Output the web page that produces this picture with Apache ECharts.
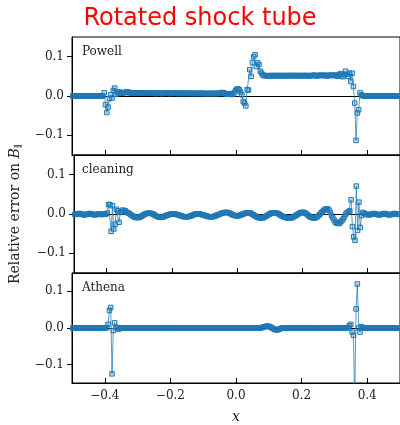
<!DOCTYPE html>
<html>
<head>
<meta charset="utf-8">
<script src="https://cdn.jsdelivr.net/npm/echarts@6/dist/echarts.min.js"></script>
<style>
html,body{margin:0;padding:0;background:#fff;}
#chart{width:400px;height:425px;}
</style>
</head>
<body>
<div id="chart"></div>
<script>
// Sample positions (cell centres) shared by the three runs
const xGrid = [
-0.498,-0.494,-0.490,-0.486,-0.482,-0.478,-0.474,-0.470,-0.466,-0.462,
-0.458,-0.454,-0.450,-0.446,-0.442,-0.438,-0.434,-0.430,-0.426,-0.422,
-0.418,-0.414,-0.410,-0.406,-0.402,-0.398,-0.394,-0.390,-0.386,-0.382,
-0.378,-0.374,-0.370,-0.366,-0.362,-0.358,-0.354,-0.350,-0.346,-0.342,
-0.338,-0.334,-0.330,-0.326,-0.322,-0.318,-0.314,-0.310,-0.306,-0.302,
-0.298,-0.294,-0.290,-0.286,-0.282,-0.278,-0.274,-0.270,-0.266,-0.262,
-0.258,-0.254,-0.250,-0.246,-0.242,-0.238,-0.234,-0.230,-0.226,-0.222,
-0.218,-0.214,-0.210,-0.206,-0.202,-0.198,-0.194,-0.190,-0.186,-0.182,
-0.178,-0.174,-0.170,-0.166,-0.162,-0.158,-0.154,-0.150,-0.146,-0.142,
-0.138,-0.134,-0.130,-0.126,-0.122,-0.118,-0.114,-0.110,-0.106,-0.102,
-0.098,-0.094,-0.090,-0.086,-0.082,-0.078,-0.074,-0.070,-0.066,-0.062,
-0.058,-0.054,-0.050,-0.046,-0.042,-0.038,-0.034,-0.030,-0.026,-0.022,
-0.018,-0.014,-0.010,-0.006,-0.002,0.002,0.006,0.010,0.014,0.018,
0.022,0.026,0.030,0.034,0.038,0.042,0.046,0.050,0.054,0.058,
0.062,0.066,0.070,0.074,0.078,0.082,0.086,0.090,0.094,0.098,
0.102,0.106,0.110,0.114,0.118,0.122,0.126,0.130,0.134,0.138,
0.142,0.146,0.150,0.154,0.158,0.162,0.166,0.170,0.174,0.178,
0.182,0.186,0.190,0.194,0.198,0.202,0.206,0.210,0.214,0.218,
0.222,0.226,0.230,0.234,0.238,0.242,0.246,0.250,0.254,0.258,
0.262,0.266,0.270,0.274,0.278,0.282,0.286,0.290,0.294,0.298,
0.302,0.306,0.310,0.314,0.318,0.322,0.326,0.330,0.334,0.338,
0.342,0.346,0.350,0.354,0.358,0.362,0.366,0.370,0.374,0.378,
0.382,0.386,0.390,0.394,0.398,0.402,0.406,0.410,0.414,0.418,
0.422,0.426,0.430,0.434,0.438,0.442,0.446,0.450,0.454,0.458,
0.462,0.466,0.470,0.474,0.478,0.482,0.486,0.490,0.494,0.498
];

const powellErr = [
0,0,0,0,0,0,0,0,0,0,
0,0,0,0,0,0,0,0,0,0,
0,0,0,0,0.008,-0.022,-0.042,-0.028,-0.007,0.003,
-0.005,0.014,0.020,0.005,0.010,0.006,0.010,0.007,0.008,0.008,
0.009,0.011,0.010,0.008,0.009,0.007,0.008,0.008,0.007,0.008,
0.007,0.008,0.007,0.007,0.008,0.007,0.007,0.008,0.007,0.007,
0.008,0.007,0.007,0.006,0.007,0.008,0.007,0.007,0.006,0.007,
0.007,0.007,0.008,0.007,0.006,0.007,0.007,0.007,0.008,0.007,
0.006,0.007,0.007,0.007,0.006,0.007,0.007,0.007,0.006,0.007,
0.007,0.006,0.007,0.007,0.006,0.007,0.006,0.007,0.007,0.006,
0.007,0.006,0.006,0.007,0.006,0.007,0.006,0.006,0.007,0.006,
0.007,0.006,0.007,0.008,0.009,0.008,0.006,0.005,0.006,0.005,
0.005,0.004,0.004,0.008,0.013,0.017,0.018,0.016,0.010,0.003,
-0.014,-0.018,-0.025,0.016,0.015,0.067,0.050,0.085,0.100,0.105,
0.075,0.084,0.080,0.063,0.058,0.053,0.052,0.051,0.052,0.051,
0.051,0.052,0.052,0.051,0.052,0.052,0.051,0.052,0.052,0.051,
0.052,0.051,0.052,0.052,0.051,0.052,0.052,0.052,0.051,0.052,
0.052,0.052,0.051,0.052,0.052,0.051,0.052,0.052,0.052,0.051,
0.052,0.051,0.052,0.052,0.053,0.052,0.051,0.052,0.052,0.053,
0.052,0.052,0.053,0.052,0.051,0.052,0.053,0.052,0.053,0.052,
0.053,0.052,0.050,0.054,0.057,0.051,0.049,0.055,0.063,0.055,
0.050,0.058,0.037,0.058,0.024,-0.018,-0.113,-0.043,-0.035,0.008,
0.003,0.001,0,0,0,0,0,0,0,0,
0,0,0,0,0,0,0,0,0,0,
0,0,0,0,0,0,0,0,0,0
];

const cleaningErr = [
-0.001,-0.001,0,0.001,0.001,0,-0.001,-0.002,-0.002,-0.001,
0,0.001,0.001,0,-0.001,-0.002,-0.002,-0.001,0,0,
-0.001,-0.001,0,-0.001,0,0.002,0.024,0.024,-0.044,0.021,
-0.038,-0.026,0.012,0.008,-0.021,0.004,0.006,0.010,0.007,0.008,
0.004,0.003,0.001,-0.002,-0.004,-0.006,-0.008,-0.009,-0.009,-0.009,
-0.008,-0.006,-0.004,-0.002,0,0.001,0.002,0.002,0.002,0.001,
0,-0.002,-0.004,-0.006,-0.007,-0.008,-0.008,-0.008,-0.007,-0.006,
-0.004,-0.003,-0.002,-0.001,0,0,0,0,-0.001,-0.002,
-0.003,-0.004,-0.005,-0.006,-0.007,-0.007,-0.007,-0.007,-0.006,-0.005,
-0.004,-0.002,-0.001,0,0,0,0,-0.001,-0.002,-0.003,
-0.004,-0.005,-0.006,-0.007,-0.007,-0.007,-0.007,-0.006,-0.005,-0.003,
-0.002,-0.001,0.001,0.002,0.003,0.004,0.004,0.004,0.003,0.002,
0,-0.002,-0.003,-0.004,-0.005,-0.005,-0.004,-0.003,-0.002,0,
0.001,0.002,0.003,0.003,0.003,0.002,0,-0.002,-0.004,-0.006,
-0.008,-0.009,-0.010,-0.010,-0.010,-0.009,-0.007,-0.005,-0.003,-0.001,
0.001,0.002,0.003,0.003,0.003,0.002,0.001,-0.001,-0.003,-0.005,
-0.007,-0.008,-0.009,-0.010,-0.010,-0.010,-0.010,-0.009,-0.007,-0.005,
-0.003,-0.001,0.001,0.003,0.004,0.004,0.004,0.002,0,-0.003,
-0.006,-0.008,-0.009,-0.010,-0.010,-0.009,-0.007,-0.004,-0.001,0.003,
0.006,0.009,0.012,0.013,0.013,0.010,0.004,-0.004,-0.010,-0.016,
-0.021,-0.023,-0.024,-0.024,-0.020,-0.017,-0.012,-0.006,0,0.004,
0.006,0.008,0.036,-0.032,-0.058,-0.067,0.071,-0.042,0.030,-0.034,
-0.004,0.004,0.002,0,-0.001,-0.002,-0.002,-0.001,0,0.001,
0.001,0,-0.001,-0.002,-0.002,-0.001,0,0.001,0.001,0,
-0.001,-0.002,-0.002,-0.001,0,0.001,0.001,0,-0.001,-0.001
];

const athenaErr = [
0,0,0,0,0,0,0,0,0,0,
0,0,0,0,0,0,0,0,0,0,
0,0,0,0,0,0,0.001,0.010,0.048,0.056,
-0.125,-0.007,0.014,0.002,0.001,-0.003,0,0,0,0,
0,0,0,0,0,0,0,0,0,0,
0,0,0,0,0,0,0,0,0,0,
0,0,0,0,0,0,0,0,0,0,
0,0,0,0,0,0,0,0,0,0,
0,0,0,0,0,0,0,0,0,0,
0,0,0,0,0,0,0,0,0,0,
0,0,0,0,0,0,0,0,0,0,
0,0,0,0,0,0,0,0,0,0,
0,0,0,0,0,0,0,0,0,0,
0,0,0,0,0,0,0,0,0,0,
0,0,0,0,0.001,0.002,0.003,0.004,0.005,0.005,
0.004,0.002,0,-0.002,-0.004,-0.005,-0.005,-0.004,-0.002,-0.001,
0,0,0,0,0,0,0,0,0,0,
0,0,0,0,0,0,0,0,0,0,
0,0,0,0,0,0,0,0,0,0,
0,0,0,0,0,0,0,0,0,0,
0,0,0,0,0,0,0,0,0,0.001,
0.001,0.006,0.010,-0.011,-0.020,-0.200,0.052,0.120,0,-0.011,
0.004,0.001,0,0,0,0,0,0,0,0,
0,0,0,0,0,0,0,0,0,0,
0,0,0,0,0,0,0,0,0,0
];

const panelNames = ['Powell', 'cleaning', 'Athena'];
const panelSeries = [powellErr, cleaningErr, athenaErr];
const xTicks = [-0.4, -0.2, 0, 0.2, 0.4];
const xTickLabels = ['\u22120.4', '\u22120.2', '0.0', '0.2', '0.4'];
const yTicks = [-0.1, 0, 0.1];
const yTickLabels = ['\u22120.1', '0.0', '0.1'];

function labelFor(ticks, labels) {
  return function (v) {
    for (let i = 0; i < ticks.length; i++) {
      if (Math.abs(ticks[i] - v) < 1e-9) return labels[i];
    }
    return '';
  };
}

const BLUE = '#1f77b4';
const SERIF = 'DejaVu Serif';
const TXT = '#222';
const panelTop = [37, 155, 273];
const panelH = 118;

const grids = [], xAxes = [], yAxes = [], series = [], titles = [];

titles.push({
  text: 'Rotated shock tube', left: 'center', top: 7, padding: 0,
  textStyle: { color: '#ff0000', fontFamily: 'DejaVu Sans', fontSize: 24, fontWeight: 'normal' }
});

for (let p = 0; p < 3; p++) {
  grids.push({ left: 72, top: panelTop[p], width: 330, height: panelH, show: true,
    borderColor: '#000', borderWidth: 1, backgroundColor: 'transparent', containLabel: false });
  titles.push({ text: panelNames[p], left: 82, top: panelTop[p] + 9, padding: 0,
    textStyle: { fontFamily: SERIF, fontSize: 12, fontWeight: 'normal', color: TXT } });
  // main x axis (bottom)
  xAxes.push({
    gridIndex: p, type: 'value', min: -0.5, max: 0.5, position: 'bottom',
    axisLine: { show: true, onZero: false, lineStyle: { color: '#000', width: 1 } },
    axisTick: { show: true, inside: true, length: 5, customValues: xTicks, lineStyle: { color: '#000', width: 1 } },
    axisLabel: { show: p === 2, customValues: xTicks, formatter: labelFor(xTicks, xTickLabels), margin: 7,
      fontFamily: SERIF, fontSize: 12, color: TXT },
    splitLine: { show: false },
    name: p === 2 ? 'x' : '', nameLocation: 'middle', nameGap: 27,
    nameTextStyle: { fontFamily: SERIF, fontStyle: 'italic', fontSize: 14, color: TXT }
  });
  // zero reference line
  xAxes.push({
    gridIndex: p, type: 'value', min: -0.5, max: 0.5, position: 'top',
    axisLine: { show: true, onZero: true, lineStyle: { color: '#000', width: 1 } },
    axisTick: { show: false }, axisLabel: { show: false }, splitLine: { show: false }
  });
  yAxes.push({
    gridIndex: p, type: 'value', min: -0.15, max: 0.15,
    axisLine: { show: true, onZero: false, lineStyle: { color: '#000', width: 1 } },
    axisTick: { show: true, inside: false, length: 5, customValues: yTicks, lineStyle: { color: '#000', width: 1 } },
    axisLabel: { customValues: yTicks, formatter: labelFor(yTicks, yTickLabels), margin: 8,
      fontFamily: SERIF, fontSize: 12, color: TXT },
    splitLine: { show: false },
    name: p === 1 ? 'Relative error on {i|B}{s|\u2225}' : '',
    nameLocation: 'middle', nameRotate: 90, nameGap: 51,
    nameTextStyle: { fontFamily: SERIF, fontSize: 14, color: TXT,
      rich: {
        i: { fontFamily: SERIF, fontStyle: 'italic', fontSize: 14, color: TXT },
        s: { fontFamily: SERIF, fontSize: 9, color: TXT, padding: [7, 0, 0, 0] }
      } }
  });
  const ys = panelSeries[p];
  series.push({
    type: 'line', xAxisIndex: p * 2, yAxisIndex: p,
    data: xGrid.map((x, i) => [x, ys[i]]),
    symbol: 'rect', symbolSize: 4.5, showAllSymbol: true,
    itemStyle: { color: 'rgba(31,119,180,0.25)', borderColor: BLUE, borderWidth: 1 },
    lineStyle: { color: BLUE, width: 1, opacity: 0.75 },
    emphasis: { disabled: true }, silent: true, clip: true, z: 3
  });
}

const chart = echarts.init(document.getElementById('chart'), null, { renderer: 'canvas' });
chart.setOption({
  animation: false,
  backgroundColor: '#fff',
  title: titles,
  grid: grids,
  xAxis: xAxes,
  yAxis: yAxes,
  series: series
});
</script>
</body>
</html>
